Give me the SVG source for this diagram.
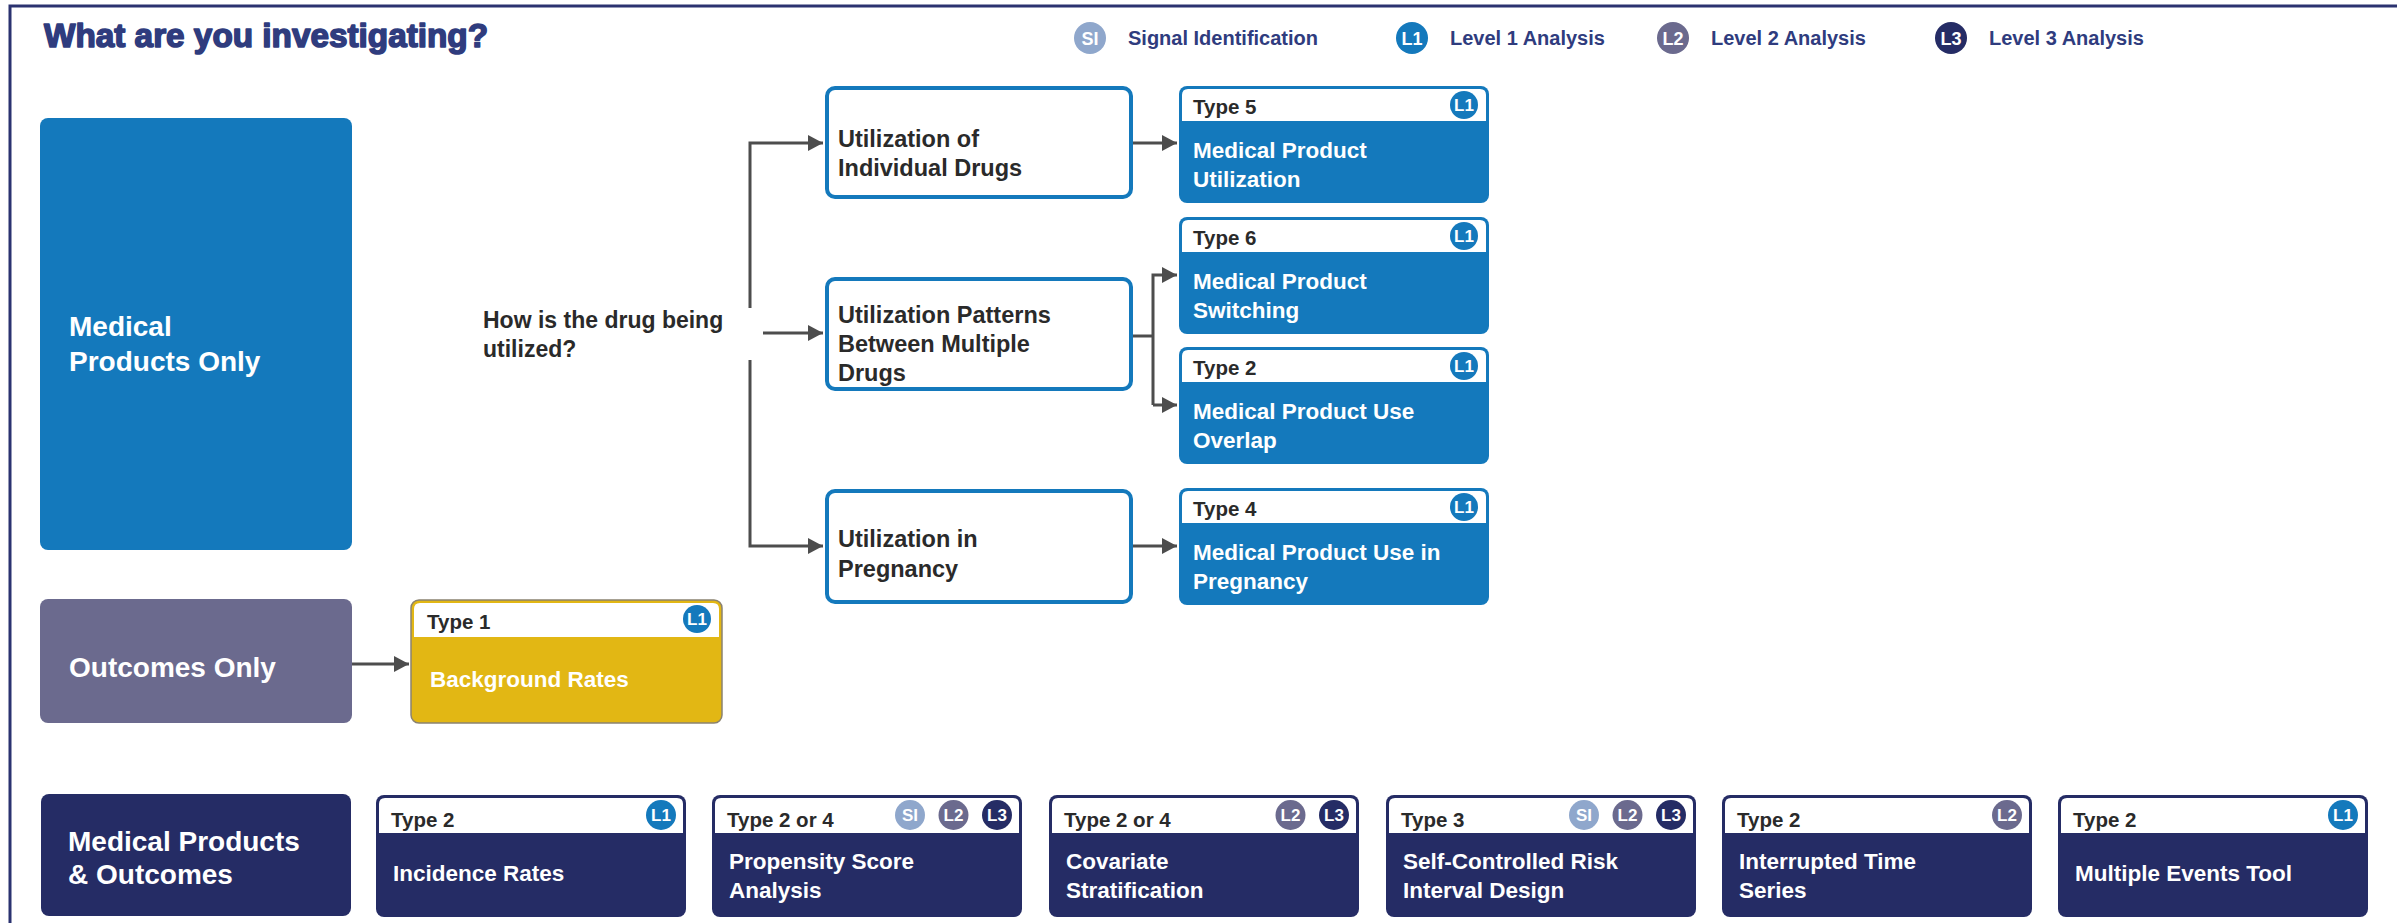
<svg xmlns="http://www.w3.org/2000/svg" width="2397" height="923" viewBox="0 0 2397 923">
<style>
text{font-family:"Liberation Sans",Arial,sans-serif;font-weight:bold}
.title{font-size:34px;fill:#2F3C7E;stroke:#2F3C7E;stroke-width:1.6;stroke-linejoin:round}
.leg{font-size:20px;fill:#2F3C7E}
.cat{font-size:28px;fill:#fff}
.q{font-size:23px;fill:#2A2A2A}
.box{fill:#fff;stroke:#1479BC;stroke-width:4}
.mid{font-size:23.5px;fill:#2A2A2A}
.type{font-size:20.5px;fill:#2A2A2A}
.body{font-size:22.5px;fill:#fff}
.bt{font-size:17px;fill:#fff;text-anchor:middle}
.lt{font-size:18px;fill:#fff;text-anchor:middle}
.si{fill:#8FA7CC}.l1{fill:#1479BC}.l2{fill:#6B6A8E}.l3{fill:#252C65}
.hdr{fill:#fff}
.conn{fill:none;stroke:#4D4D4D;stroke-width:3}
</style>
<defs>
<marker id="ah" markerUnits="userSpaceOnUse" markerWidth="16" markerHeight="16" refX="15" refY="8" orient="auto">
<path d="M0,0 L15,8 L0,16 Z" fill="#4D4D4D"/>
</marker>
</defs>
<rect width="2397" height="923" fill="#fff"/>
<path d="M10,923 V6 H2397" fill="none" stroke="#2B3270" stroke-width="3"/>
<text class="title" x="44" y="47" textLength="444" lengthAdjust="spacingAndGlyphs">What are you investigating?</text>
<g id="legend">
<circle class="si" cx="1090" cy="38" r="16"/><text class="lt" x="1090" y="44.5">SI</text>
<text class="leg" x="1128" y="45">Signal Identification</text>
<circle class="l1" cx="1412" cy="38" r="16"/><text class="lt" x="1412" y="44.5">L1</text>
<text class="leg" x="1450" y="45">Level 1 Analysis</text>
<circle class="l2" cx="1673" cy="38" r="16"/><text class="lt" x="1673" y="44.5">L2</text>
<text class="leg" x="1711" y="45">Level 2 Analysis</text>
<circle class="l3" cx="1951" cy="38" r="16"/><text class="lt" x="1951" y="44.5">L3</text>
<text class="leg" x="1989" y="45">Level 3 Analysis</text>
</g>
<g id="connectors">
<path class="conn" d="M750,308 V143 H823" marker-end="url(#ah)"/>
<path class="conn" d="M763,333 H823" marker-end="url(#ah)"/>
<path class="conn" d="M750,360 V546 H823" marker-end="url(#ah)"/>
<path class="conn" d="M1133,143 H1177" marker-end="url(#ah)"/>
<path class="conn" d="M1133,336 H1153"/>
<path class="conn" d="M1153,405 V275 H1177" marker-end="url(#ah)"/>
<path class="conn" d="M1153,405 H1177" marker-end="url(#ah)"/>
<path class="conn" d="M1133,546 H1177" marker-end="url(#ah)"/>
<path class="conn" d="M352,664 H409" marker-end="url(#ah)"/>
</g>
<g id="medical-products-only">
<rect x="40" y="118" width="312" height="432" rx="8" fill="#1479BC"/>
<text class="cat" x="69" y="336">Medical</text>
<text class="cat" x="69" y="371">Products Only</text>
</g>
<g id="question">
<text class="q" x="483" y="328">How is the drug being</text>
<text class="q" x="483" y="357">utilized?</text>
</g>
<g id="util-individual">
<rect class="box" x="827" y="88" width="304" height="109" rx="8"/>
<text class="mid" x="838" y="147">Utilization of</text>
<text class="mid" x="838" y="176">Individual Drugs</text>
</g>
<g id="util-patterns">
<rect class="box" x="827" y="279" width="304" height="110" rx="8"/>
<text class="mid" x="838" y="323">Utilization Patterns</text>
<text class="mid" x="838" y="352">Between Multiple</text>
<text class="mid" x="838" y="381">Drugs</text>
</g>
<g id="util-pregnancy">
<rect class="box" x="827" y="491" width="304" height="111" rx="8"/>
<text class="mid" x="838" y="547">Utilization in</text>
<text class="mid" x="838" y="577">Pregnancy</text>
</g>
<g id="type5">
<rect x="1179" y="86" width="310" height="117" rx="8" fill="#1479BC"/>
<path class="hdr" d="M1182,121 V95 Q1182,89 1188,89 H1480 Q1486,89 1486,95 V121 Z"/>
<text class="type" x="1193" y="114">Type 5</text>
<circle class="l1" cx="1464" cy="105" r="14"/><text class="bt" x="1464" y="111">L1</text>
<text class="body" x="1193" y="158">Medical Product</text>
<text class="body" x="1193" y="187">Utilization</text>
</g>
<g id="type6">
<rect x="1179" y="217" width="310" height="117" rx="8" fill="#1479BC"/>
<path class="hdr" d="M1182,252 V226 Q1182,220 1188,220 H1480 Q1486,220 1486,226 V252 Z"/>
<text class="type" x="1193" y="245">Type 6</text>
<circle class="l1" cx="1464" cy="236" r="14"/><text class="bt" x="1464" y="242">L1</text>
<text class="body" x="1193" y="289">Medical Product</text>
<text class="body" x="1193" y="318">Switching</text>
</g>
<g id="type2-overlap">
<rect x="1179" y="347" width="310" height="117" rx="8" fill="#1479BC"/>
<path class="hdr" d="M1182,382 V356 Q1182,350 1188,350 H1480 Q1486,350 1486,356 V382 Z"/>
<text class="type" x="1193" y="375">Type 2</text>
<circle class="l1" cx="1464" cy="366" r="14"/><text class="bt" x="1464" y="372">L1</text>
<text class="body" x="1193" y="419">Medical Product Use</text>
<text class="body" x="1193" y="448">Overlap</text>
</g>
<g id="type4">
<rect x="1179" y="488" width="310" height="117" rx="8" fill="#1479BC"/>
<path class="hdr" d="M1182,523 V497 Q1182,491 1188,491 H1480 Q1486,491 1486,497 V523 Z"/>
<text class="type" x="1193" y="516">Type 4</text>
<circle class="l1" cx="1464" cy="507" r="14"/><text class="bt" x="1464" y="513">L1</text>
<text class="body" x="1193" y="560">Medical Product Use in</text>
<text class="body" x="1193" y="589">Pregnancy</text>
</g>
<g id="outcomes-only">
<rect x="40" y="599" width="312" height="124" rx="8" fill="#6B6A8E"/>
<text class="cat" x="69" y="677">Outcomes Only</text>
</g>
<g id="type1">
<rect x="411" y="600" width="311" height="123" rx="8" fill="#E2B714" stroke="#8A8270" stroke-width="1.5"/>
<path class="hdr" d="M414,637 V609 Q414,603 420,603 H713 Q719,603 719,609 V637 Z"/>
<text class="type" x="427" y="629">Type 1</text>
<circle class="l1" cx="697" cy="619" r="14"/><text class="bt" x="697" y="625">L1</text>
<text class="body" x="430" y="687">Background Rates</text>
</g>
<g id="products-outcomes">
<rect x="41" y="794" width="310" height="122" rx="8" fill="#252C65"/>
<text class="cat" x="68" y="851">Medical Products</text>
<text class="cat" x="68" y="884">&amp; Outcomes</text>
</g>
<g id="incidence-rates">
<rect x="376" y="795" width="310" height="122" rx="8" fill="#252C65"/>
<path class="hdr" d="M379,833 V804 Q379,798 385,798 H677 Q683,798 683,804 V833 Z"/>
<text class="type" x="391" y="827">Type 2</text>
<circle class="l1" cx="661" cy="815" r="15"/><text class="bt" x="661" y="821">L1</text>
<text class="body" x="393" y="881">Incidence Rates</text>
</g>
<g id="propensity">
<rect x="712" y="795" width="310" height="122" rx="8" fill="#252C65"/>
<path class="hdr" d="M715,833 V804 Q715,798 721,798 H1013 Q1019,798 1019,804 V833 Z"/>
<text class="type" x="727" y="827">Type 2 or 4</text>
<circle class="si" cx="910" cy="815" r="15"/><text class="bt" x="910" y="821">SI</text>
<circle class="l2" cx="953.5" cy="815" r="15"/><text class="bt" x="953.5" y="821">L2</text>
<circle class="l3" cx="997" cy="815" r="15"/><text class="bt" x="997" y="821">L3</text>
<text class="body" x="729" y="869">Propensity Score</text>
<text class="body" x="729" y="898">Analysis</text>
</g>
<g id="covariate">
<rect x="1049" y="795" width="310" height="122" rx="8" fill="#252C65"/>
<path class="hdr" d="M1052,833 V804 Q1052,798 1058,798 H1350 Q1356,798 1356,804 V833 Z"/>
<text class="type" x="1064" y="827">Type 2 or 4</text>
<circle class="l2" cx="1290.5" cy="815" r="15"/><text class="bt" x="1290.5" y="821">L2</text>
<circle class="l3" cx="1334" cy="815" r="15"/><text class="bt" x="1334" y="821">L3</text>
<text class="body" x="1066" y="869">Covariate</text>
<text class="body" x="1066" y="898">Stratification</text>
</g>
<g id="self-controlled">
<rect x="1386" y="795" width="310" height="122" rx="8" fill="#252C65"/>
<path class="hdr" d="M1389,833 V804 Q1389,798 1395,798 H1687 Q1693,798 1693,804 V833 Z"/>
<text class="type" x="1401" y="827">Type 3</text>
<circle class="si" cx="1584" cy="815" r="15"/><text class="bt" x="1584" y="821">SI</text>
<circle class="l2" cx="1627.5" cy="815" r="15"/><text class="bt" x="1627.5" y="821">L2</text>
<circle class="l3" cx="1671" cy="815" r="15"/><text class="bt" x="1671" y="821">L3</text>
<text class="body" x="1403" y="869">Self-Controlled Risk</text>
<text class="body" x="1403" y="898">Interval Design</text>
</g>
<g id="interrupted">
<rect x="1722" y="795" width="310" height="122" rx="8" fill="#252C65"/>
<path class="hdr" d="M1725,833 V804 Q1725,798 1731,798 H2023 Q2029,798 2029,804 V833 Z"/>
<text class="type" x="1737" y="827">Type 2</text>
<circle class="l2" cx="2007" cy="815" r="15"/><text class="bt" x="2007" y="821">L2</text>
<text class="body" x="1739" y="869">Interrupted Time</text>
<text class="body" x="1739" y="898">Series</text>
</g>
<g id="multiple-events">
<rect x="2058" y="795" width="310" height="122" rx="8" fill="#252C65"/>
<path class="hdr" d="M2061,833 V804 Q2061,798 2067,798 H2359 Q2365,798 2365,804 V833 Z"/>
<text class="type" x="2073" y="827">Type 2</text>
<circle class="l1" cx="2343" cy="815" r="15"/><text class="bt" x="2343" y="821">L1</text>
<text class="body" x="2075" y="881">Multiple Events Tool</text>
</g>
</svg>
